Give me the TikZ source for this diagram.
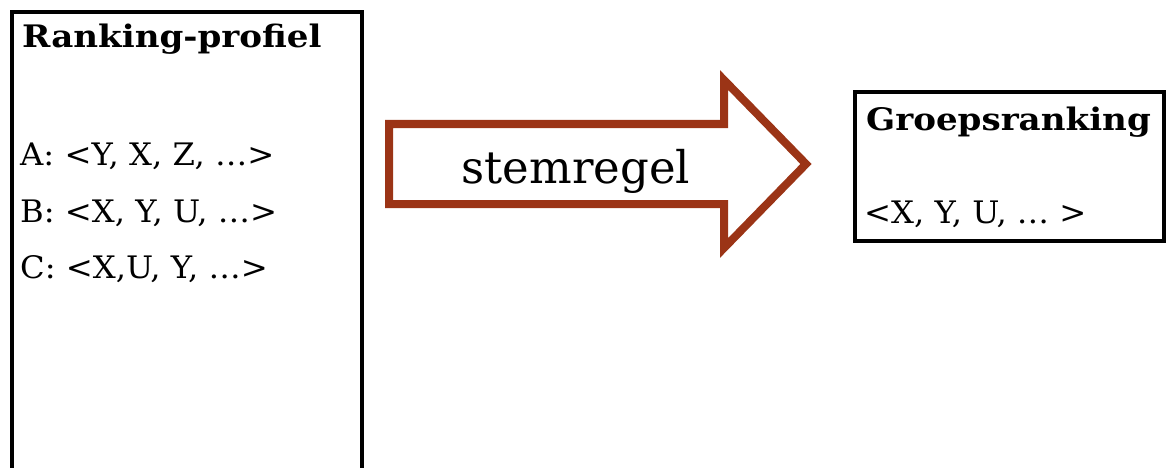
\documentclass[tikz,border=0pt]{standalone}
\usepackage{fontspec}
\setmainfont{DejaVu Serif}
\newfontfamily\titlefont[FakeStretch=1.1]{DejaVu Serif}
\newfontfamily\entryfont[FakeStretch=1.04]{DejaVu Serif}
\definecolor{arrowbrown}{RGB}{155,52,22}
\begin{document}
\begin{tikzpicture}[x=1pt,y=-1pt,
  box/.style={draw=black,line width=4pt},
  blockarrow/.style={draw=arrowbrown,line width=8pt,line join=miter,miter limit=10},
  title/.style={anchor=base west,inner sep=0pt,font=\titlefont\fontsize{31}{34}\selectfont\bfseries},
  entry/.style={anchor=base west,inner sep=0pt,font=\entryfont\fontsize{31}{34}\selectfont},
  label/.style={anchor=base,inner sep=0pt,font=\fontsize{45}{50}\selectfont}]
\useasboundingbox (0,0) rectangle (1166,468);
\clip (0,0) rectangle (1166,468);
% left box (open past the bottom edge)
\draw[box] (12,480) -- (12,12) -- (362,12) -- (362,480);
\node[title] (t1) at (22,48) {Ranking-profiel};
\node[entry] (a) at (20,165) {A: <Y, X, Z, …>};
\node[entry] (b) at (20,222) {B: <X, Y, U, …>};
\node[entry] (c) at (20,278) {C: <X,U, Y, …>};
% block arrow
\draw[blockarrow] (389,124) -- (724,124) -- (724,80) -- (806,164) -- (724,248) -- (724,204) -- (389,204) -- cycle;
\node[label] (rule) at (576,183) {stemregel};
% right box
\draw[box] (855,92) rectangle (1164,241);
\node[title] (t2) at (866,130) {Groepsranking};
\node[entry] (g) at (864,223) {<X, Y, U, … >};
\end{tikzpicture}
\end{document}
